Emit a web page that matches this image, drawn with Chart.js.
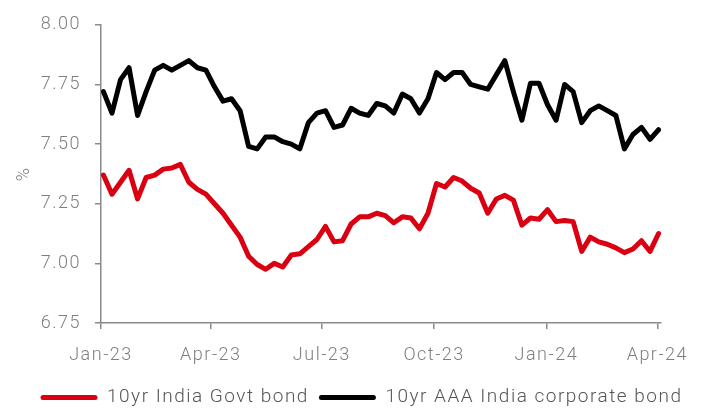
<!DOCTYPE html>
<html>
<head>
<meta charset="utf-8">
<script src="https://cdn.jsdelivr.net/npm/chart.js@4/dist/chart.umd.min.js"></script>
<style>
  html, body { margin: 0; padding: 0; background: #ffffff; }
  #wrap { width: 706px; height: 410px; position: relative; }
</style>
</head>
<body>
<div id="wrap"><canvas id="c"></canvas></div>
<script>
// ---- data ----
const seriesNames = ['10yr India Govt bond', '10yr AAA India corporate bond'];
const firstWeek = '2023-01-03';   // weekly observations
const govtBond = [
  7.37, 7.29, 7.34, 7.39, 7.27, 7.36, 7.37, 7.395, 7.40, 7.415,
  7.34, 7.31, 7.29, 7.25, 7.21, 7.16, 7.11, 7.03, 6.995, 6.975,
  7.00, 6.985, 7.035, 7.04, 7.07, 7.10, 7.155, 7.09, 7.095, 7.165,
  7.195, 7.195, 7.21, 7.20, 7.17, 7.195, 7.19, 7.145, 7.21, 7.335,
  7.32, 7.36, 7.345, 7.315, 7.295, 7.21, 7.27, 7.285, 7.265, 7.16,
  7.19, 7.185, 7.225, 7.175, 7.18, 7.175, 7.05, 7.11, 7.09, 7.08,
  7.065, 7.045, 7.06, 7.095, 7.05, 7.125
];
const corpBond = [
  7.72, 7.63, 7.77, 7.82, 7.62, 7.72, 7.81, 7.83, 7.81, 7.83,
  7.85, 7.82, 7.81, 7.74, 7.68, 7.69, 7.64, 7.49, 7.48, 7.53,
  7.53, 7.51, 7.50, 7.48, 7.59, 7.63, 7.64, 7.57, 7.58, 7.65,
  7.63, 7.62, 7.67, 7.66, 7.63, 7.71, 7.69, 7.63, 7.69, 7.80,
  7.77, 7.80, 7.80, 7.75, 7.74, 7.73, 7.79, 7.85, 7.72, 7.60,
  7.755, 7.755, 7.665, 7.60, 7.75, 7.72, 7.59, 7.64, 7.66, 7.64,
  7.62, 7.48, 7.54, 7.57, 7.52, 7.56
];
const xTickLabels = ['Jan-23', 'Apr-23', 'Jul-23', 'Oct-23', 'Jan-24', 'Apr-24'];
const xTickDates  = ['2023-01-01', '2023-04-01', '2023-07-01', '2023-10-01', '2024-01-01', '2024-04-01'];
const yTicks = [6.75, 7.00, 7.25, 7.50, 7.75, 8.00];
const yTitle = '%';

// ---- helpers ----
const DAY = 86400000;
const origin = Date.parse(xTickDates[0] + 'T00:00:00Z');
const dayOf = s => Math.round((Date.parse(s + 'T00:00:00Z') - origin) / DAY);
const week0 = dayOf(firstWeek);
const toPoints = arr => arr.map((v, i) => ({ x: week0 + 7 * i, y: v }));
const tickDays = xTickDates.map(dayOf);

const RED = '#db0011';
const BLACK = '#000000';
const AXIS = '#8a8a8a';
const TICKTXT = '#7f7f7f';
const FONT = { family: 'Roboto', size: 18, weight: '300' };
const LEGFONT = { family: 'Roboto', size: 19, weight: '300' };

const spacing = {
  id: 'spacing',
  beforeUpdate(c) { c.ctx.letterSpacing = '1.5px'; },
  beforeDraw(c) { c.ctx.letterSpacing = '1.5px'; }
};

new Chart(document.getElementById('c'), {
  type: 'line',
  data: {
    datasets: [
      { label: seriesNames[0], data: toPoints(govtBond), borderColor: RED, backgroundColor: RED },
      { label: seriesNames[1], data: toPoints(corpBond), borderColor: BLACK, backgroundColor: BLACK }
    ]
  },
  plugins: [spacing],
  options: {
    responsive: true,
    maintainAspectRatio: false,
    animation: false,
    devicePixelRatio: 1,
    layout: { padding: { left: 17, right: 0, top: 19, bottom: -7 } },
    elements: {
      line: { borderWidth: 5, tension: 0, borderJoinStyle: 'round', borderCapStyle: 'round', fill: false },
      point: { radius: 0, hoverRadius: 0 }
    },
    plugins: {
      tooltip: { enabled: false },
      legend: {
        position: 'bottom',
        labels: {
          color: '#555555',
          font: LEGFONT,
          boxWidth: 57,
          boxHeight: 5,
          useBorderRadius: true,
          borderRadius: 2.5,
          padding: 10,
          generateLabels(chart) {
            return chart.data.datasets.map((ds, i) => ({
              text: ds.label,
              fillStyle: ds.borderColor,
              strokeStyle: ds.borderColor,
              lineWidth: 0,
              fontColor: '#555555',
              hidden: false,
              datasetIndex: i,
              borderRadius: 2.5
            }));
          }
        }
      }
    },
    scales: {
      x: {
        type: 'linear',
        min: 0,
        max: 459,
        afterBuildTicks(scale) { scale.ticks = tickDays.map(v => ({ value: v })); },
        afterFit(scale) { scale.height = 55; },
        ticks: {
          autoSkip: false,
          maxRotation: 0,
          color: TICKTXT,
          font: FONT,
          padding: 16,
          callback(value) { const k = tickDays.indexOf(value); return k >= 0 ? xTickLabels[k] : ''; }
        },
        grid: { display: true, drawOnChartArea: false, drawTicks: true, tickLength: 6, color: AXIS, lineWidth: 1.5 },
        border: { display: true, color: AXIS, width: 1.5 }
      },
      y: {
        min: yTicks[0],
        max: yTicks[yTicks.length - 1],
        afterBuildTicks(scale) { scale.ticks = yTicks.map(v => ({ value: v })); },
        afterFit(scale) { scale.width = 84; },
        ticks: {
          color: TICKTXT,
          font: FONT,
          padding: 14,
          callback(value) { return Number(value).toFixed(2); }
        },
        title: { display: true, text: yTitle, color: TICKTXT, font: FONT, padding: { top: -3, bottom: 0 } },
        grid: { display: true, drawOnChartArea: false, drawTicks: true, tickLength: 6, color: AXIS, lineWidth: 1.5 },
        border: { display: true, color: AXIS, width: 1.5 }
      },
      yRightSpace: {
        position: 'right',
        display: true,
        afterFit(scale) { scale.width = 45; },
        ticks: { display: false },
        grid: { display: false },
        border: { display: false }
      }
    }
  }
});
</script>
</body>
</html>
